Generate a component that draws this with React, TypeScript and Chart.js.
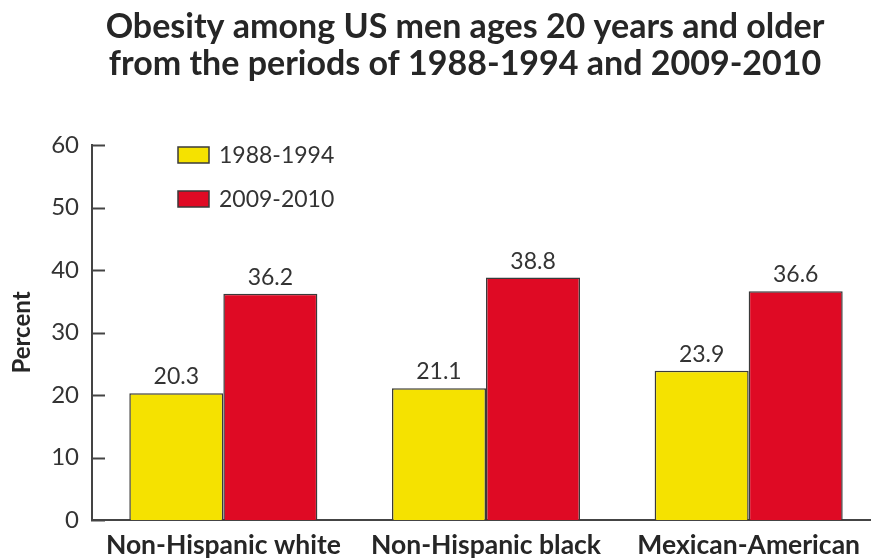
import React, { useEffect, useRef } from "react";
import { Chart, registerables } from "chart.js";

Chart.register(...registerables);

// Chart content
const titleLines = [
  "Obesity among US men ages 20 years and older",
  "from the periods of 1988-1994 and 2009-2010",
];
const categories = ["Non-Hispanic white", "Non-Hispanic black", "Mexican-American"];
const seriesLabels = ["1988-1994", "2009-2010"];
const values1988to1994 = [20.3, 21.1, 23.9];
const values2009to2010 = [36.2, 38.8, 36.6];
const yTicks = [0, 10, 20, 30, 40, 50, 60];
const yAxisTitle = "Percent";

// Styling
const FONT = "Lato, 'Open Sans', 'Liberation Sans', sans-serif";
const INK = "#262626";
const LABEL_INK = "#333333";
const LINE = "#444444";
const YELLOW = "#F5E200";
const RED = "#DF0A24";
const BAR_EDGE = "#3a3a3a";

const CANVAS_W = 880;
const CANVAS_H = 558;

// Two-line heading above the plot
const titlePlugin = {
  id: "headline",
  afterDraw(chart: any) {
    const { ctx } = chart;
    ctx.save();
    ctx.fillStyle = INK;
    ctx.font = `bold 34px ${FONT}`;
    ctx.textAlign = "center";
    ctx.textBaseline = "alphabetic";
    titleLines.forEach((line, i) => {
      ctx.fillText(line, 465, 38 + i * 37);
    });
    ctx.restore();
  },
};

// Short tick marks on the inside of the value axis
const innerTicksPlugin = {
  id: "innerTicks",
  afterDraw(chart: any) {
    const { ctx, chartArea } = chart;
    const y = chart.scales.y;
    ctx.save();
    ctx.strokeStyle = LINE;
    ctx.lineWidth = 2;
    y.ticks.forEach((t: any) => {
      const py = Math.round(y.getPixelForValue(t.value)) + 0.5;
      ctx.beginPath();
      ctx.moveTo(chartArea.left - 1, py);
      ctx.lineTo(chartArea.left + 13, py);
      ctx.stroke();
    });
    ctx.restore();
  },
};

// Value printed above each bar
const valueLabelsPlugin = {
  id: "valueLabels",
  afterDatasetsDraw(chart: any) {
    const { ctx } = chart;
    ctx.save();
    ctx.fillStyle = LABEL_INK;
    ctx.font = `23px ${FONT}`;
    ctx.textAlign = "center";
    ctx.textBaseline = "alphabetic";
    chart.data.datasets.forEach((ds: any, di: number) => {
      const meta = chart.getDatasetMeta(di);
      meta.data.forEach((bar: any, i: number) => {
        ctx.fillText(Number(ds.data[i]).toFixed(1), bar.x, bar.y - 9);
      });
    });
    ctx.restore();
  },
};

// Stacked legend inside the plot, upper left
const legendPlugin = {
  id: "insetLegend",
  afterDraw(chart: any) {
    const { ctx } = chart;
    ctx.save();
    chart.data.datasets.forEach((ds: any, i: number) => {
      const top = 147 + i * 44;
      ctx.fillStyle = ds.backgroundColor;
      ctx.fillRect(178, top, 31, 16);
      ctx.strokeStyle = BAR_EDGE;
      ctx.lineWidth = 1.5;
      ctx.strokeRect(178, top, 31, 16);
      ctx.fillStyle = LABEL_INK;
      ctx.font = `23px ${FONT}`;
      ctx.textAlign = "left";
      ctx.textBaseline = "middle";
      ctx.fillText(ds.label, 219, top + 9);
    });
    ctx.restore();
  },
};

export default function App() {
  const canvasRef = useRef<HTMLCanvasElement | null>(null);

  useEffect(() => {
    if (!canvasRef.current) return;
    const chart = new Chart(canvasRef.current, {
      type: "bar",
      data: {
        labels: categories,
        datasets: [
          {
            label: seriesLabels[0],
            data: values1988to1994,
            backgroundColor: YELLOW,
            borderColor: BAR_EDGE,
            borderWidth: 1.5,
          },
          {
            label: seriesLabels[1],
            data: values2009to2010,
            backgroundColor: RED,
            borderColor: BAR_EDGE,
            borderWidth: 1.5,
          },
        ],
      },
      options: {
        responsive: false,
        animation: false,
        layout: { padding: { top: 145, right: 0, bottom: 0, left: 0 } },
        datasets: { bar: { barPercentage: 1, categoryPercentage: 0.716 } },
        plugins: {
          legend: { display: false },
          title: { display: false },
          tooltip: { enabled: false },
        },
        scales: {
          x: {
            grid: { display: false, drawTicks: false },
            border: { display: true, color: LINE, width: 2 },
            ticks: {
              color: INK,
              padding: 10,
              font: { family: FONT, size: 26.5, weight: "bold" },
            },
            afterFit: (s: any) => {
              s.height = 38;
            },
          },
          y: {
            min: 0,
            max: 60,
            afterBuildTicks: (s: any) => {
              s.ticks = yTicks.map((v) => ({ value: v }));
            },
            grid: { display: false, drawTicks: false },
            border: { display: true, color: LINE, width: 2 },
            ticks: {
              color: LABEL_INK,
              padding: 13,
              font: { family: FONT, size: 24 },
            },
            title: {
              display: true,
              text: yAxisTitle,
              color: INK,
              padding: { top: 8, bottom: 0 },
              font: { family: FONT, size: 24, weight: "bold" },
            },
            afterFit: (s: any) => {
              s.width = 92;
            },
          },
        },
      },
      plugins: [titlePlugin, innerTicksPlugin, valueLabelsPlugin, legendPlugin],
    } as any);
    return () => chart.destroy();
  }, []);

  return (
    <div
      style={{
        position: "fixed",
        left: 0,
        top: 0,
        width: 871,
        height: 558,
        overflow: "hidden",
        background: "#ffffff",
      }}
    >
      <canvas
        ref={canvasRef}
        width={CANVAS_W}
        height={CANVAS_H}
        style={{ display: "block" }}
      />
    </div>
  );
}
